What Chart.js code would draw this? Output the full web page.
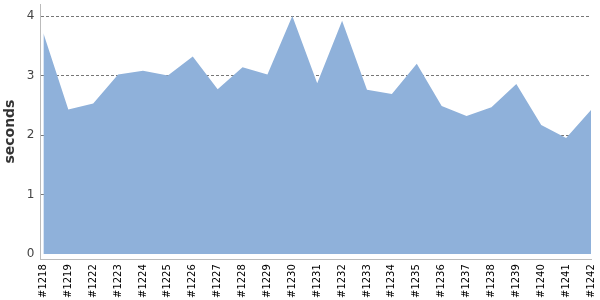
<!DOCTYPE html>
<html>
<head>
    <title>Build times</title>
    <style>
        body { margin: 0; background: #fff; }
        #wrap { width: 600px; height: 300px; }
    </style>
</head>
<body>
    <div id="wrap"><canvas id="buildChart" width="600" height="300"></canvas></div>
    <script src="https://cdn.jsdelivr.net/npm/chart.js"></script>
    <script>
        const builds = ['#1218', '#1219', '#1222', '#1223', '#1224', '#1225', '#1226', '#1227',
            '#1228', '#1229', '#1230', '#1231', '#1232', '#1233', '#1234', '#1235', '#1236',
            '#1237', '#1238', '#1239', '#1240', '#1241', '#1242'];
        const seconds = [3.71, 2.43, 2.53, 3.02, 3.08, 3.0, 3.32, 2.77, 3.14, 3.02, 4.0, 2.87,
            3.92, 2.76, 2.69, 3.2, 2.49, 2.32, 2.47, 2.86, 2.17, 1.95, 2.42];
        const yTicks = [0, 1, 2, 3, 4];

        const font = 'DejaVu Sans';
        const points = seconds.map((v, i) => ({ x: i, y: v }));

        new Chart(document.getElementById('buildChart'), {
            type: 'line',
            data: {
                datasets: [{
                    data: points,
                    fill: 'origin',
                    backgroundColor: '#8fb1da',
                    borderWidth: 0,
                    pointRadius: 0,
                    tension: 0
                }]
            },
            options: {
                responsive: false,
                animation: false,
                layout: { padding: { top: 4, right: 9, left: 2, bottom: 0 } },
                plugins: { legend: { display: false }, tooltip: { enabled: false } },
                scales: {
                    x: {
                        type: 'linear',
                        min: -0.12,
                        max: builds.length - 1,
                        afterBuildTicks: axis => { axis.ticks = builds.map((b, i) => ({ value: i })); },
                        // the rotated end labels fit inside the margins, no extra room needed
                        afterFit: axis => { axis.paddingLeft = 0; axis.paddingRight = 0; },
                        grid: { display: false, drawTicks: true, tickLength: 3, tickColor: '#bbb' },
                        border: { color: '#bbb', width: 1 },
                        ticks: {
                            autoSkip: false,
                            maxRotation: 90,
                            minRotation: 90,
                            padding: 2,
                            color: '#000',
                            font: { family: font, size: 10 },
                            callback: v => builds[v]
                        }
                    },
                    y: {
                        min: -0.085,
                        max: 4.203,
                        z: 1,
                        afterBuildTicks: axis => { axis.ticks = yTicks.map(v => ({ value: v })); },
                        afterFit: axis => { axis.paddingTop = 0; axis.paddingBottom = 0; },
                        grid: {
                            color: ctx => ctx.tick && ctx.tick.value === 0 ? 'rgba(0,0,0,0)' : '#777',
                            drawTicks: false
                        },
                        border: { color: '#bbb', width: 1, dash: [3, 2] },
                        ticks: {
                            padding: 6,
                            color: '#444',
                            font: { family: font, size: 12 }
                        },
                        title: {
                            display: true,
                            text: 'seconds',
                            color: '#333',
                            padding: { top: 0, bottom: 2 },
                            font: { family: font, size: 14, weight: 'bold' }
                        }
                    }
                }
            }
        });
    </script>
</body>
</html>
